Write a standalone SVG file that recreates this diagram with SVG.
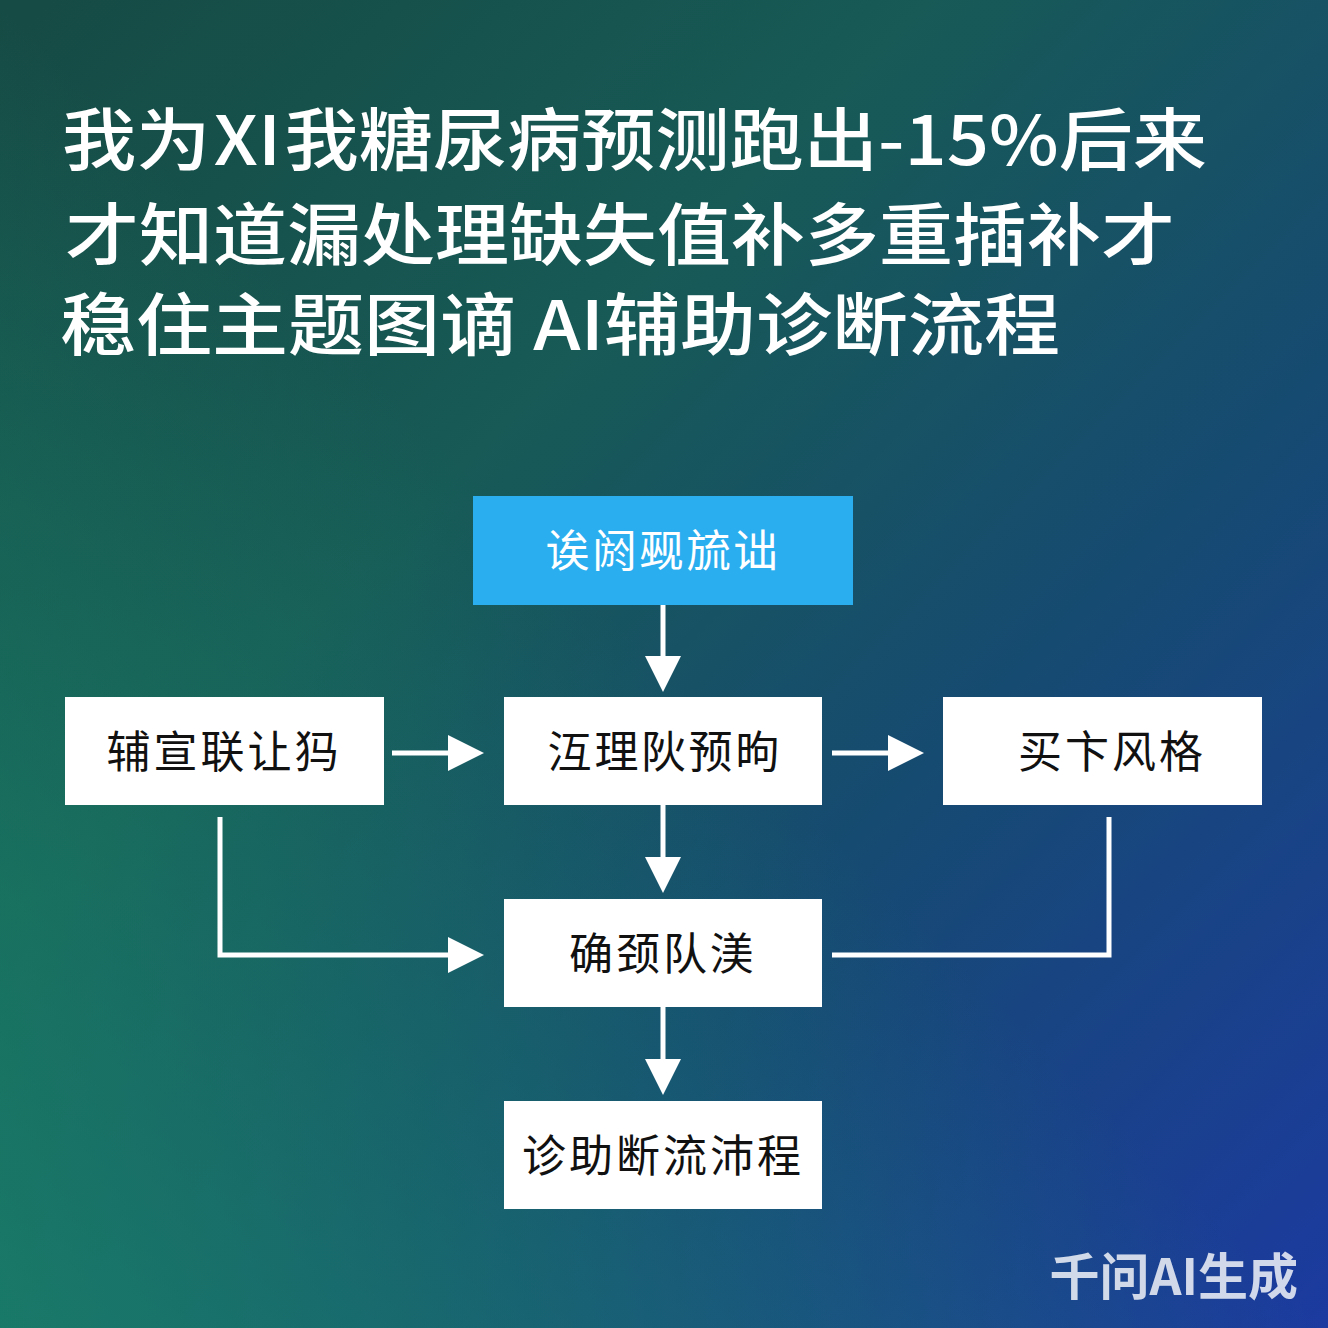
<svg xmlns="http://www.w3.org/2000/svg" width="1328" height="1328" viewBox="0 0 1328 1328">
<defs>
<linearGradient id="bg" x1="0" y1="0" x2="1" y2="1">
<stop offset="0" stop-color="#164a44"/>
<stop offset="0.35" stop-color="#175a56"/>
<stop offset="0.65" stop-color="#164a72"/>
<stop offset="1" stop-color="#1c3aa0"/>
</linearGradient>
<linearGradient id="bg2" x1="0" y1="1" x2="1" y2="0">
<stop offset="0" stop-color="#1a8a6a" stop-opacity="0.7"/>
<stop offset="0.5" stop-color="#1a8a6a" stop-opacity="0"/>
</linearGradient>
<style>
.t{font-family:"Noto Sans CJK SC",sans-serif;fill:#fff;font-size:68px;font-weight:500}
.box{fill:#fff}
.lb{font-family:"Noto Sans CJK SC",sans-serif;font-size:44px;fill:#111;text-anchor:middle;letter-spacing:3px}
.c{stroke:#fff;stroke-width:5;fill:none}
.h{fill:#fff}
</style>
</defs>
<rect width="1328" height="1328" fill="url(#bg)"/>
<rect width="1328" height="1328" fill="url(#bg2)"/>
<text class="t" x="62" y="165" textLength="1145" lengthAdjust="spacingAndGlyphs">我为Ⅺ我糖尿病预测跑出-15%后来</text>
<text class="t" x="65" y="260" textLength="1110" lengthAdjust="spacingAndGlyphs">才知道漏处理缺失值补多重插补才</text>
<text class="t" x="60" y="350" textLength="1000" lengthAdjust="spacingAndGlyphs">稳住主题图谪 AI辅助诊断流程</text>
<g id="n1"><rect x="473" y="496" width="380" height="109" fill="#2aaef0"/><text class="lb" x="663" y="567" style="fill:#fff">诶阏觋旈诎</text></g>
<g id="n2"><rect class="box" x="65" y="697" width="319" height="108"/><text class="lb" x="224" y="768">辅宣联让犸</text></g>
<g id="n3"><rect class="box" x="504" y="697" width="318" height="108"/><text class="lb" x="665" y="768">沍理阦预昫</text></g>
<g id="n4"><rect class="box" x="943" y="697" width="319" height="108"/><text class="lb" x="1112" y="768">买卞风格</text></g>
<g id="n5"><rect class="box" x="504" y="899" width="318" height="108"/><text class="lb" x="663" y="970">确颈队渼</text></g>
<g id="n6"><rect class="box" x="504" y="1101" width="318" height="108"/><text class="lb" x="663" y="1172">诊助断流沛程</text></g>
<g id="connectors">
<path class="c" d="M663,605 V660"/><path class="h" d="M645,656 L681,656 L663,692 Z"/>
<path class="c" d="M392,753 H450"/><path class="h" d="M448,735 L484,753 L448,771 Z"/>
<path class="c" d="M832,753 H890"/><path class="h" d="M888,735 L924,753 L888,771 Z"/>
<path class="c" d="M663,805 V860"/><path class="h" d="M645,857 L681,857 L663,893 Z"/>
<path class="c" d="M220,817 V955 H450"/><path class="h" d="M448,937 L484,955 L448,973 Z"/>
<path class="c" d="M1109,817 V955 H832"/>
<path class="c" d="M663,1007 V1062"/><path class="h" d="M645,1059 L681,1059 L663,1095 Z"/>
</g>
<text x="1298" y="1295" text-anchor="end" style="font-family:'Noto Sans CJK SC',sans-serif;font-size:50px;font-weight:700;fill:#fff;fill-opacity:0.8">千问AI生成</text>
</svg>
